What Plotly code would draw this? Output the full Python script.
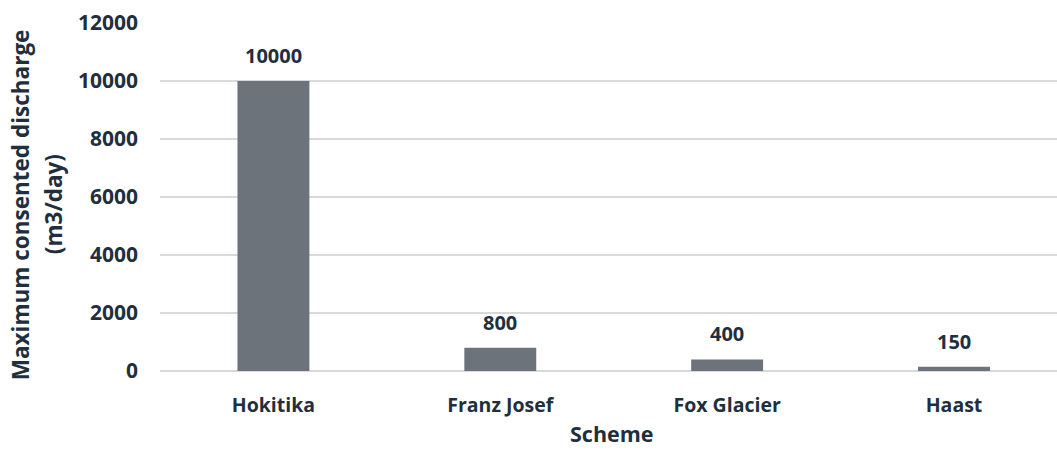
import plotly.graph_objects as go

schemes = ["Hokitika", "Franz Josef", "Fox Glacier", "Haast"]
discharge = [10000, 800, 400, 150]
y_ticks = [0, 2000, 4000, 6000, 8000, 10000, 12000]

text_color = "#1f2f3d"
bar_color = "#6d737b"
grid_color = "#d9d9d9"
font_family = "Open Sans"

fig = go.Figure()
fig.add_trace(go.Bar(
    x=schemes,
    y=discharge,
    width=0.317,
    marker=dict(color=bar_color, line=dict(width=0)),
    hoverinfo="x+y",
))

# value labels above each bar
for s, v in zip(schemes, discharge):
    fig.add_annotation(
        x=s, y=v, text=f"<b>{v}</b>", showarrow=False,
        yanchor="bottom", yshift=10,
        font=dict(family=font_family, size=20, color=text_color),
    )

# two-line rotated y-axis title
fig.add_annotation(
    xref="paper", yref="paper", x=-0.1554, y=0.478,
    text="<b>Maximum consented discharge</b>", textangle=-90,
    showarrow=False, xanchor="center", yanchor="middle",
    font=dict(family=font_family, size=22.5, color=text_color),
)
fig.add_annotation(
    xref="paper", yref="paper", x=-0.1187, y=0.478,
    text="<b>(m3/day)</b>", textangle=-90,
    showarrow=False, xanchor="center", yanchor="middle",
    font=dict(family=font_family, size=22.5, color=text_color),
)
# x-axis title
fig.add_annotation(
    xref="paper", yref="paper", x=0.504, y=-0.226,
    text="<b>Scheme</b>", showarrow=False,
    xanchor="center", yanchor="bottom",
    font=dict(family=font_family, size=21.5, color=text_color),
)

fig.update_layout(
    width=1057, height=450,
    margin=dict(l=159.5, r=0, t=23, b=79),
    paper_bgcolor="white", plot_bgcolor="white",
    showlegend=False,
    font=dict(family=font_family, color=text_color),
    xaxis=dict(
        range=[-0.5, 3.454],
        showgrid=False, showline=False, zeroline=False,
        ticks="", ticklabelstandoff=20,
        tickfont=dict(family=font_family, size=19.5, color=text_color, weight="bold"),
    ),
    yaxis=dict(
        range=[0, 12000],
        tickvals=y_ticks, ticktext=[str(t) for t in y_ticks],
        showgrid=True, gridcolor=grid_color, gridwidth=2,
        zeroline=True, zerolinecolor=grid_color, zerolinewidth=2,
        showline=False, ticks="", ticklabelstandoff=21,
        tickfont=dict(family=font_family, size=21, color=text_color, weight="bold"),
    ),
)

fig.write_html("out.html")
